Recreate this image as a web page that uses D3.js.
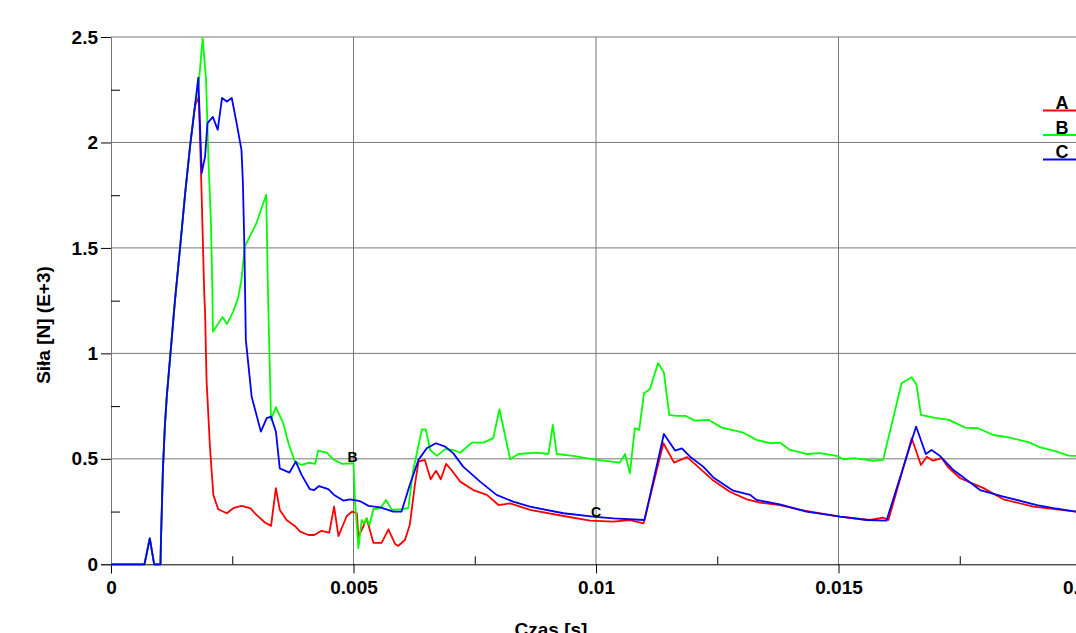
<!DOCTYPE html>
<html>
<head>
<meta charset="utf-8">
<script src="https://cdn.jsdelivr.net/npm/d3@7/dist/d3.min.js"></script>
<style>
body { margin: 0; background: #fff; }
svg { display: block; }
text { font-family: "Liberation Sans", Arial, sans-serif; font-weight: bold; fill: #000; }
</style>
</head>
<body>
<svg id="chart"></svg>
<script>
var width = 1076, height = 633;

// shared rise at the start (all three curves overlap here)
var riseTime  = [0, 0.00069, 0.00080, 0.00089, 0.00102, 0.00103, 0.00107, 0.00111, 0.00115, 0.00125, 0.00132, 0.00142, 0.00153, 0.00163, 0.00173];
var riseForce = [0, 0, 0.123, 0, 0, 0.112, 0.447, 0.653, 0.795, 1.064, 1.254, 1.491, 1.761, 1.981, 2.171];

// A (red)
var timeA = [0.00181, 0.00184, 0.00186, 0.00189, 0.00192, 0.00194, 0.00197, 0.00204, 0.00211, 0.00221, 0.00239, 0.00252, 0.00269, 0.00287, 0.00300,
  0.00318, 0.00330, 0.00340, 0.00348, 0.00362, 0.00379, 0.00390, 0.00407, 0.00419, 0.00434, 0.00450, 0.00460, 0.00469, 0.00486, 0.00497,
  0.00507, 0.00510, 0.00520, 0.00527, 0.00541, 0.00558, 0.00572, 0.00586, 0.00592, 0.00606, 0.00616, 0.00627, 0.00634, 0.00647, 0.00659,
  0.00670, 0.00680, 0.00691, 0.00702, 0.00720, 0.00747, 0.00775, 0.00799, 0.00823, 0.00864, 0.00933, 0.00988, 0.01036, 0.01070, 0.01098,
  0.01139, 0.01161, 0.01188, 0.01214, 0.01242, 0.01276, 0.01311, 0.01338, 0.01379, 0.01421, 0.01503, 0.01565, 0.01592, 0.01603, 0.01651,
  0.01670, 0.01682, 0.01695, 0.01713, 0.01726, 0.01751, 0.01799, 0.01840, 0.01902, 0.01990, 0.02000];
var forceA = [2.216, 1.981, 1.823, 1.570, 1.301, 1.191, 0.874, 0.558, 0.329, 0.261, 0.242, 0.266, 0.277, 0.266, 0.234,
  0.197, 0.182, 0.361, 0.258, 0.210, 0.182, 0.155, 0.139, 0.139, 0.159, 0.150, 0.273, 0.134, 0.229, 0.250,
  0.242, 0.131, 0.178, 0.218, 0.102, 0.102, 0.166, 0.096, 0.087, 0.115, 0.186, 0.384, 0.487, 0.495, 0.403,
  0.444, 0.403, 0.476, 0.447, 0.392, 0.352, 0.329, 0.281, 0.289, 0.258, 0.229, 0.207, 0.202, 0.210, 0.194,
  0.574, 0.482, 0.508, 0.455, 0.397, 0.344, 0.308, 0.292, 0.281, 0.258, 0.226, 0.210, 0.221, 0.210, 0.598,
  0.471, 0.510, 0.491, 0.503, 0.460, 0.408, 0.361, 0.308, 0.273, 0.250, 0.247];

// B (green)
var timeB = [0.00181, 0.00189, 0.00196, 0.00201, 0.00206, 0.00209, 0.00210, 0.00230, 0.00239, 0.00252, 0.00262, 0.00269, 0.00276, 0.00300, 0.00320,
  0.00324, 0.00330, 0.00340, 0.00355, 0.00366, 0.00379, 0.00393, 0.00409, 0.00421, 0.00427, 0.00445, 0.00458, 0.00476, 0.00500, 0.00503,
  0.00510, 0.00517, 0.00522, 0.00527, 0.00533, 0.00541, 0.00555, 0.00567, 0.00579, 0.00599, 0.00613, 0.00623, 0.00632, 0.00641, 0.00649,
  0.00658, 0.00672, 0.00689, 0.00706, 0.00720, 0.00744, 0.00768, 0.00788, 0.00801, 0.00823, 0.00840, 0.00878, 0.00902, 0.00911, 0.00919,
  0.00953, 0.01001, 0.01049, 0.01060, 0.01070, 0.01080, 0.01089, 0.01099, 0.01111, 0.01128, 0.01140, 0.01151, 0.01166, 0.01184, 0.01204,
  0.01232, 0.01259, 0.01304, 0.01331, 0.01359, 0.01379, 0.01400, 0.01434, 0.01462, 0.01496, 0.01510, 0.01531, 0.01572, 0.01592, 0.01630,
  0.01651, 0.01661, 0.01670, 0.01702, 0.01728, 0.01761, 0.01788, 0.01819, 0.01850, 0.01895, 0.01915, 0.01950, 0.01974, 0.02000];
var forceB = [2.280, 2.495, 2.297, 1.913, 1.626, 1.301, 1.103, 1.172, 1.139, 1.198, 1.262, 1.349, 1.507, 1.618, 1.752,
  1.254, 0.685, 0.745, 0.669, 0.574, 0.487, 0.471, 0.482, 0.476, 0.539, 0.529, 0.498, 0.476, 0.479, 0.305,
  0.076, 0.210, 0.194, 0.218, 0.186, 0.261, 0.266, 0.305, 0.258, 0.261, 0.266, 0.447, 0.542, 0.640, 0.640,
  0.542, 0.514, 0.546, 0.542, 0.529, 0.577, 0.577, 0.598, 0.735, 0.498, 0.523, 0.529, 0.523, 0.661, 0.523,
  0.514, 0.495, 0.482, 0.523, 0.432, 0.645, 0.637, 0.811, 0.830, 0.954, 0.909, 0.708, 0.704, 0.704, 0.681,
  0.685, 0.648, 0.624, 0.590, 0.574, 0.577, 0.542, 0.523, 0.527, 0.514, 0.498, 0.503, 0.491, 0.495, 0.858,
  0.887, 0.851, 0.708, 0.693, 0.685, 0.648, 0.645, 0.613, 0.602, 0.577, 0.555, 0.534, 0.515, 0.514];

// C (blue)
var timeC = [0.00180, 0.00187, 0.00194, 0.00199, 0.00210, 0.00220, 0.00229, 0.00239, 0.00249, 0.00259, 0.00269, 0.00272, 0.00275, 0.00278, 0.00290,
  0.00309, 0.00321, 0.00330, 0.00340, 0.00348, 0.00368, 0.00381, 0.00393, 0.00410, 0.00419, 0.00429, 0.00448, 0.00460, 0.00479, 0.00493,
  0.00513, 0.00531, 0.00555, 0.00582, 0.00599, 0.00616, 0.00634, 0.00651, 0.00670, 0.00689, 0.00706, 0.00726, 0.00761, 0.00795, 0.00829,
  0.00864, 0.00933, 0.00994, 0.01036, 0.01100, 0.01140, 0.01163, 0.01177, 0.01194, 0.01221, 0.01242, 0.01283, 0.01318, 0.01331, 0.01379,
  0.01434, 0.01503, 0.01558, 0.01599, 0.01660, 0.01680, 0.01692, 0.01709, 0.01737, 0.01792, 0.01840, 0.01909, 0.01943, 0.01990, 0.02000];
var forceC = [2.307, 1.855, 1.934, 2.092, 2.121, 2.060, 2.211, 2.194, 2.211, 2.092, 1.965, 1.807, 1.507, 1.064, 0.795,
  0.629, 0.693, 0.700, 0.629, 0.455, 0.435, 0.487, 0.424, 0.356, 0.352, 0.371, 0.356, 0.329, 0.302, 0.308,
  0.300, 0.277, 0.270, 0.250, 0.250, 0.376, 0.495, 0.550, 0.574, 0.558, 0.526, 0.463, 0.392, 0.329, 0.297,
  0.273, 0.242, 0.226, 0.218, 0.210, 0.618, 0.539, 0.550, 0.510, 0.463, 0.412, 0.349, 0.329, 0.305, 0.284,
  0.250, 0.226, 0.210, 0.207, 0.653, 0.523, 0.542, 0.514, 0.447, 0.352, 0.321, 0.281, 0.266, 0.250, 0.247];

var seriesNames  = ["A", "B", "C"];
var seriesColors = ["#ff0000", "#00ff00", "#0000ff"];
var yTicks = [0, 0.5, 1, 1.5, 2, 2.5];
var yMinor = [0.25, 0.75, 1.25, 1.75, 2.25];
var xTicks = [0, 0.005, 0.01, 0.015, 0.02];
var xMinor = [0.0025, 0.0075, 0.0125, 0.0175];

var series = [
  {name: "A", time: riseTime.concat(timeA), force: riseForce.concat(forceA)},
  {name: "B", time: riseTime.concat(timeB), force: riseForce.concat(forceB)},
  {name: "C", time: riseTime.concat(timeC), force: riseForce.concat(forceC)}
];

var x = d3.scaleLinear().domain([0, 0.02]).range([111, 1081]);
var y = d3.scaleLinear().domain([0, 2.5]).range([564.3, 37]);

var svg = d3.select("#chart").attr("width", width).attr("height", height);

// grid
svg.append("g").selectAll("line")
    .data(yTicks.slice(1))
    .enter().append("line")
    .attr("x1", x(0)).attr("x2", x(0.02))
    .attr("y1", function(d) { return y(d); }).attr("y2", function(d) { return y(d); })
    .attr("stroke", "#777").attr("stroke-width", 1);
svg.append("g").selectAll("line")
    .data(xTicks.slice(1))
    .enter().append("line")
    .attr("y1", y(0)).attr("y2", y(2.5))
    .attr("x1", function(d) { return x(d); }).attr("x2", function(d) { return x(d); })
    .attr("stroke", "#777").attr("stroke-width", 1);

// left axis (gray line, black ticks)
var yAxis = svg.append("g").attr("transform", "translate(" + x(0) + ",0)")
    .call(d3.axisLeft(y).tickValues(yTicks).tickSize(10).tickPadding(3)
      .tickFormat(function(d) { return String(d); }));
yAxis.select(".domain").attr("stroke", "#777");
yAxis.selectAll(".tick line").attr("stroke", "#000");
yAxis.selectAll("text").style("font-size", "19px").attr("fill", "#000");

var yMinorAxis = svg.append("g").attr("transform", "translate(" + x(0) + ",0)")
    .call(d3.axisRight(y).tickValues(yMinor).tickSize(9).tickFormat(""));
yMinorAxis.select(".domain").remove();
yMinorAxis.selectAll(".tick line").attr("stroke", "#000");

// bottom axis
var xAxis = svg.append("g").attr("transform", "translate(0," + y(0) + ")")
    .call(d3.axisBottom(x).tickValues(xTicks).tickSize(9).tickPadding(7)
      .tickFormat(function(d) { return String(d); }));
xAxis.select(".domain").attr("stroke", "#000");
xAxis.selectAll(".tick line").attr("stroke", "#000");
xAxis.selectAll("text").style("font-size", "19px").attr("fill", "#000");

var xMinorAxis = svg.append("g").attr("transform", "translate(0," + y(0) + ")")
    .call(d3.axisTop(x).tickValues(xMinor).tickSize(8).tickFormat(""));
xMinorAxis.select(".domain").remove();
xMinorAxis.selectAll(".tick line").attr("stroke", "#000");

// curves
var line = d3.line()
    .x(function(d) { return x(d[0]); })
    .y(function(d) { return y(d[1]); });

svg.append("g").selectAll("path")
    .data(series)
    .enter().append("path")
    .attr("fill", "none")
    .attr("stroke", function(d, i) { return seriesColors[i]; })
    .attr("stroke-width", 1.8)
    .attr("stroke-linejoin", "round")
    .attr("d", function(d) { return line(d.time.map(function(t, i) { return [t, d.force[i]]; })); });

// curve labels
svg.append("text").attr("x", x(0.005) - 1).attr("y", 462).attr("text-anchor", "middle")
    .style("font-size", "14px").text("B");
svg.append("text").attr("x", x(0.01)).attr("y", 516.5).attr("text-anchor", "middle")
    .style("font-size", "14px").text("C");

// legend
var legend = svg.append("g").selectAll("g")
    .data(seriesNames)
    .enter().append("g")
    .attr("transform", function(d, i) { return "translate(1043," + (110 + i * 24.5) + ")"; });
legend.append("line")
    .attr("x1", 0).attr("x2", 40).attr("y1", 0.5).attr("y2", 0.5)
    .attr("stroke", function(d, i) { return seriesColors[i]; })
    .attr("stroke-width", 2);
legend.append("text")
    .attr("x", 19).attr("y", -1).attr("text-anchor", "middle")
    .style("font-size", "18px")
    .text(function(d) { return d; });

// axis titles
svg.append("text")
    .attr("transform", "translate(50,325) rotate(-90)")
    .attr("text-anchor", "middle")
    .style("font-size", "19px")
    .text("Siła [N] (E+3)");
svg.append("text")
    .attr("x", 551).attr("y", 636).attr("text-anchor", "middle")
    .style("font-size", "19px")
    .text("Czas [s]");
</script>
</body>
</html>
